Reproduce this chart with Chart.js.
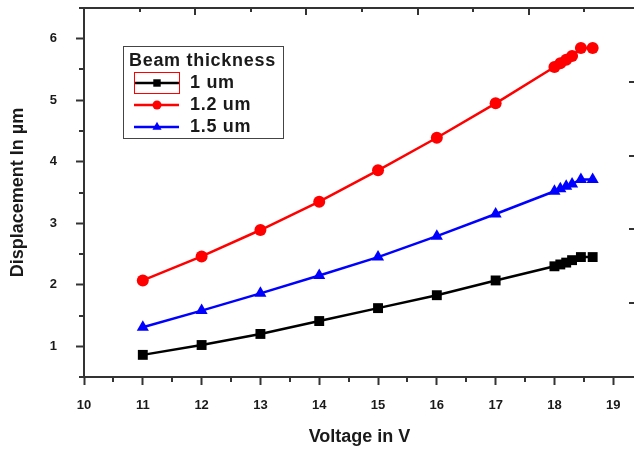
<!DOCTYPE html>
<html>
<head>
<meta charset="utf-8">
<script src="https://cdn.jsdelivr.net/npm/chart.js@4.4.1/dist/chart.umd.min.js"></script>
<style>
  html, body { margin: 0; padding: 0; background: #fff; overflow: hidden; }
  #wrap { width: 634px; height: 451px; position: relative; overflow: hidden; }
  /* a little wider than the window: the space Chart.js keeps for the last x label falls outside */
  #inner { width: 642px; height: 451px; position: relative; }
  #chart { display: block; }
</style>
</head>
<body>
<div id="wrap"><div id="inner"><canvas id="chart"></canvas></div></div>
<script>
// Data
const voltage = [11, 12, 13, 14, 15, 16, 17, 18, 18.1, 18.2, 18.3, 18.45, 18.65];
const disp1um = [0.86, 1.02, 1.20, 1.41, 1.62, 1.83, 2.07, 2.30, 2.33, 2.36, 2.40, 2.45, 2.45];
const disp12um = [2.07, 2.46, 2.89, 3.35, 3.86, 4.39, 4.95, 5.54, 5.60, 5.66, 5.72, 5.85, 5.85];
const disp15um = [1.31, 1.58, 1.86, 2.15, 2.45, 2.79, 3.15, 3.52, 3.56, 3.60, 3.64, 3.71, 3.71];
const seriesLabels = ['1 um', '1.2 um', '1.5 um'];
const legendTitle = 'Beam thickness';
const xTicks = [10, 11, 12, 13, 14, 15, 16, 17, 18, 19];
const yTicks = [1, 2, 3, 4, 5, 6];
const topTicks = [1, 2, 3, 4, 5, 6, 7, 8, 9];
const rightTicks = [1, 2, 3, 4];

const FONT = '"Liberation Sans", Arial, sans-serif';
const TEXT = '#1a1a1a';
const AXIS = '#333';

function toPoints(ys) {
    return voltage.map((v, i) => ({ x: v, y: ys[i] }));
}

const datasets = [
    { label: seriesLabels[0], data: toPoints(disp1um), borderColor: '#000', backgroundColor: '#000', pointStyle: 'rect', pointRadius: 7 },
    { label: seriesLabels[1], data: toPoints(disp12um), borderColor: '#ff0000', backgroundColor: '#ff0000', pointStyle: 'circle', pointRadius: 6 },
    { label: seriesLabels[2], data: toPoints(disp15um), borderColor: '#0000ff', backgroundColor: '#0000ff', pointStyle: 'triangle', pointRadius: 7 }
].map(d => Object.assign(d, { borderWidth: 2.5, pointBorderWidth: 0, pointHoverRadius: d.pointRadius, tension: 0 }));

// minor ticks, top/right frame and the boxed legend
const framePlugin = {
    id: 'frame',
    afterDraw(chart) {
        const ctx = chart.ctx;
        const area = chart.chartArea;
        const x = chart.scales.x, y = chart.scales.y;
        const x2 = chart.scales.x2, y2 = chart.scales.y2;
        ctx.save();
        ctx.strokeStyle = AXIS;
        ctx.lineWidth = 2;

        // top line with inner ticks
        ctx.beginPath();
        ctx.moveTo(area.left - 4, area.top);
        ctx.lineTo(area.right, area.top);
        topTicks.forEach(v => {
            const px = Math.round(x2.getPixelForValue(v));
            ctx.moveTo(px, area.top);
            ctx.lineTo(px, area.top + (v % 2 ? 4 : 7));
        });
        // right inner ticks
        rightTicks.forEach(v => {
            const py = Math.round(y2.getPixelForValue(v));
            ctx.moveTo(area.right - 6, py);
            ctx.lineTo(area.right, py);
        });
        // minor ticks on bottom and left axes
        xTicks.forEach(v => {
            const px = Math.round(x.getPixelForValue(v + 0.5));
            if (px < area.right) {
                ctx.moveTo(px, area.bottom);
                ctx.lineTo(px, area.bottom + 5);
            }
        });
        [0.5].concat(yTicks.map(v => v + 0.5)).forEach(v => {
            const py = Math.round(y.getPixelForValue(v));
            ctx.moveTo(area.left, py);
            ctx.lineTo(area.left - 5, py);
        });
        ctx.stroke();

        // legend box
        const bx = 123, by = 46, bw = 160, bh = 92;
        ctx.lineWidth = 1;
        ctx.strokeStyle = '#444';
        ctx.strokeRect(bx + 0.5, by + 0.5, bw, bh);
        ctx.fillStyle = TEXT;
        ctx.textBaseline = 'middle';
        ctx.textAlign = 'left';
        ctx.font = 'bold 18px ' + FONT;
        if ('letterSpacing' in ctx) ctx.letterSpacing = '0.7px';
        ctx.fillText(legendTitle, bx + 6, by + 15);
        chart.data.datasets.forEach((ds, i) => {
            const ly = by + 37 + i * 22;
            ctx.strokeStyle = ds.borderColor;
            ctx.lineWidth = 2.5;
            ctx.beginPath();
            ctx.moveTo(bx + 11, ly);
            ctx.lineTo(bx + 56, ly);
            ctx.stroke();
            ctx.fillStyle = ds.backgroundColor;
            Chart.helpers.drawPoint(ctx, { pointStyle: ds.pointStyle, radius: ds.pointRadius * 0.75, rotation: 0, borderWidth: 0 }, bx + 34, ly);
            ctx.fillStyle = TEXT;
            ctx.fillText(ds.label, bx + 67, ly);
        });
        // red selection frame around the first legend sample
        ctx.strokeStyle = '#ff0000';
        ctx.lineWidth = 1;
        ctx.strokeRect(bx + 11.5, by + 26.5, 45, 21);
        ctx.restore();
    }
};

const tickFont = { family: FONT, size: 13, weight: 'bold' };
const titleFont = { family: FONT, size: 18, weight: 'bold' };
const hiddenAxis = {
    type: 'linear',
    display: false,
    grid: { display: false, drawTicks: false },
    ticks: { display: false },
    border: { display: false },
    afterFit: s => {
        if (s.isHorizontal()) s.height = 0; else s.width = 0;
        s.paddingTop = s.paddingBottom = s.paddingLeft = s.paddingRight = 0;
    }
};

new Chart(document.getElementById('chart'), {
    type: 'line',
    data: { datasets: datasets },
    options: {
        responsive: true,
        maintainAspectRatio: false,
        animation: false,
        layout: { padding: { top: 8, right: 0, left: 0, bottom: 0 } },
        plugins: {
            legend: { display: false },
            tooltip: { enabled: false }
        },
        scales: {
            x: {
                type: 'linear',
                min: 10,
                max: 19.37,
                afterBuildTicks: s => { s.ticks = xTicks.map(v => ({ value: v })); },
                afterFit: s => { s.height = 74; s.paddingLeft = 0; s.paddingRight = 0; },
                grid: { drawOnChartArea: false, drawTicks: true, tickLength: 8, tickWidth: 2, tickColor: AXIS },
                border: { display: true, color: AXIS, width: 2 },
                ticks: { font: tickFont, color: TEXT, padding: 13, maxRotation: 0, autoSkip: false },
                title: { display: true, text: 'Voltage in V', font: titleFont, color: TEXT, padding: { top: 0, bottom: 3 } }
            },
            y: {
                type: 'linear',
                min: 0.5,
                max: 6.5,
                afterBuildTicks: s => { s.ticks = yTicks.map(v => ({ value: v })); },
                afterFit: s => { s.width = 84; s.paddingTop = 0; s.paddingBottom = 0; },
                grid: { drawOnChartArea: false, drawTicks: true, tickLength: 8, tickWidth: 2, tickColor: AXIS },
                border: { display: true, color: AXIS, width: 2 },
                ticks: { font: tickFont, color: TEXT, padding: 19 },
                title: { display: true, text: 'Displacement In µm', font: titleFont, color: TEXT, padding: { top: 7, bottom: 0 } }
            },
            x2: Object.assign({ position: 'top', min: 0, max: 9.91 }, hiddenAxis),
            y2: Object.assign({ position: 'right', min: 0, max: 5 }, hiddenAxis)
        }
    },
    plugins: [framePlugin]
});
</script>
</body>
</html>
